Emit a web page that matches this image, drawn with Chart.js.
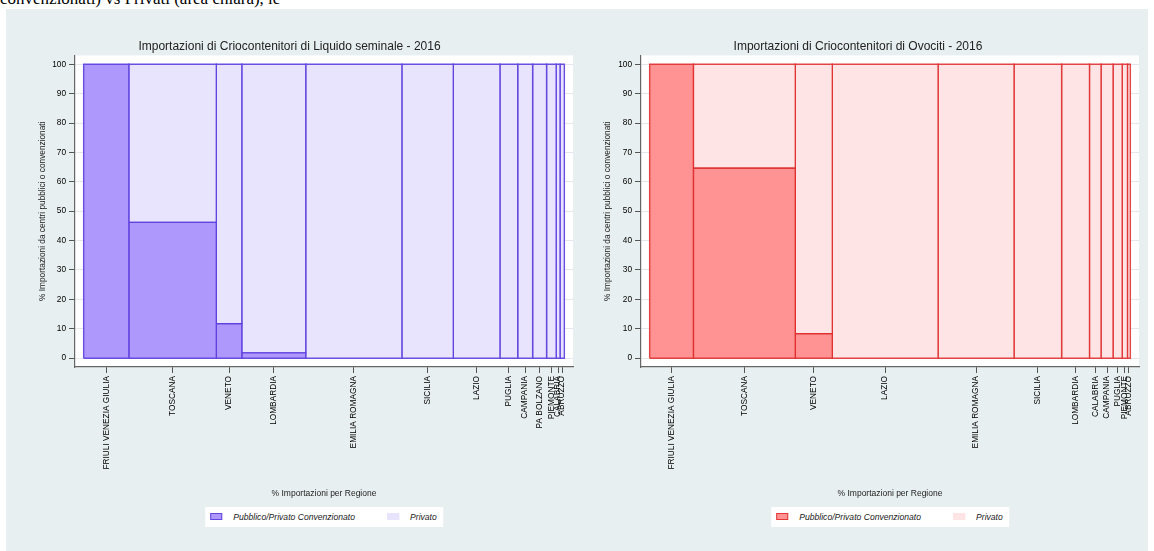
<!DOCTYPE html>
<html lang="it">
<head>
<meta charset="utf-8">
<title>Importazioni di Criocontenitori - 2016</title>
<script src="https://cdn.jsdelivr.net/npm/chart.js@4.4.1/dist/chart.umd.min.js"></script>
<style>
  body { margin: 0; background: #fff; font-family: "Liberation Sans", Arial, sans-serif; }
  .testo { position: absolute; left: 0; top: 0; width: 1154px; height: 9px; overflow: hidden; }
  .testo span { position: absolute; left: 0; top: -9px; font: 17px/16px "Liberation Serif", serif; color: #000; white-space: nowrap; }
  .pannello { position: absolute; left: 6px; top: 9px; width: 1142px; height: 542px; background: #e8eff1; }
  .pannello canvas { position: absolute; top: 0; }
  .legenda { position: absolute; top: 498px; height: 20px; background: #fff; display: flex; align-items: center;
             padding: 0 6px 0 5px; transform: translateX(-50%); font: italic 8.6px "Liberation Sans", Arial, sans-serif; color: #222; white-space: nowrap; }
  .legenda .box { display: inline-block; width: 10px; height: 5px; margin-right: 11px; }
  .legenda .voce + .voce { margin-left: 32px; }
</style>
</head>
<body>
<div class="testo"><span>convenzionati) vs Privati (area chiara), le</span></div>
<div class="pannello" id="pannello">
  <canvas id="seme" width="571" height="542" style="left:0px"></canvas>
  <canvas id="ovociti" width="571" height="542" style="left:571px"></canvas>
</div>

<script>
// Liquido seminale: quota delle importazioni per regione (larghezza colonna)
// e quota da centri pubblici/privati convenzionati (altezza parte scura)
const SEME_REGIONI = ['FRIULI VENEZIA GIULIA', 'TOSCANA', 'VENETO', 'LOMBARDIA', 'EMILIA ROMAGNA', 'SICILIA',
  'LAZIO', 'PUGLIA', 'CAMPANIA', 'PA BOLZANO', 'PIEMONTE', 'CALABRIA', 'ABRUZZO'];
const SEME_QUOTA = [9.4, 18.2, 5.3, 13.3, 20.0, 10.7, 9.7, 3.7, 3.1, 2.9, 2.0, 0.8, 0.9];
const SEME_PUBBLICO = [100, 46.2, 11.7, 1.8, 0, 0, 0, 0, 0, 0, 0, 0, 0];

// Ovociti
const OVO_REGIONI = ['FRIULI VENEZIA GIULIA', 'TOSCANA', 'VENETO', 'LAZIO', 'EMILIA ROMAGNA', 'SICILIA',
  'LOMBARDIA', 'CALABRIA', 'CAMPANIA', 'PUGLIA', 'PIEMONTE', 'ABRUZZO'];
const OVO_QUOTA = [9.1, 21.2, 7.7, 22.0, 15.8, 9.9, 5.8, 2.4, 2.5, 1.9, 1.1, 0.6];
const OVO_PUBBLICO = [100, 64.6, 8.3, 0, 0, 0, 0, 0, 0, 0, 0, 0];

const Y_TICKS = [0, 10, 20, 30, 40, 50, 60, 70, 80, 90, 100];

// sfondo bianco dell'area del grafico
const sfondoBianco = {
  id: 'sfondoBianco',
  beforeDraw(chart) {
    const {ctx, chartArea: a} = chart;
    ctx.save();
    ctx.fillStyle = '#fff';
    ctx.fillRect(a.left, a.top, a.right - a.left, a.bottom - a.top);
    ctx.restore();
  }
};

// un rettangolo come linea chiusa riempita
function rettangolo(x0, x1, y0, y1, fondo, bordo) {
  return {
    data: [{x: x0, y: y0}, {x: x0, y: y1}, {x: x1, y: y1}, {x: x1, y: y0}, {x: x0, y: y0}],
    fill: 'shape',
    backgroundColor: fondo,
    borderColor: bordo,
    borderWidth: 1.4,
    borderJoinStyle: 'miter',
    pointRadius: 0,
    tension: 0
  };
}

function creaGrafico(id, titolo, regioni, quote, pubblico, colori, larghezzaY, titoloYPad, padDestra) {
  let inizio = [];
  let somma = 0;
  quote.forEach(q => { inizio.push(somma); somma += q; });
  let centri = quote.map((q, i) => inizio[i] + q / 2);

  let datasets = [];
  regioni.forEach((r, i) => {
    let x0 = inizio[i];
    let x1 = inizio[i] + quote[i];
    let v = pubblico[i];
    if (v > 0) datasets.push(rettangolo(x0, x1, 0, v, colori.scuro, colori.bordo));
    if (v < 100) datasets.push(rettangolo(x0, x1, v, 100, colori.chiaro, colori.bordo));
  });

  return new Chart(document.getElementById(id), {
    type: 'line',
    data: { datasets: datasets },
    plugins: [sfondoBianco],
    options: {
      responsive: false,
      animation: false,
      events: [],
      layout: { padding: { top: 0, left: 0, right: padDestra, bottom: 42 } },
      plugins: {
        legend: { display: false },
        tooltip: { enabled: false },
        title: {
          display: true,
          text: titolo,
          color: '#222',
          font: { family: 'Liberation Sans', size: 12, weight: 'normal' },
          padding: { top: 30, bottom: 2 }
        }
      },
      scales: {
        x: {
          type: 'linear',
          min: -1.8,
          max: 101.8,
          afterBuildTicks: s => { s.ticks = centri.map(v => ({value: v})); },
          afterFit: s => { s.height = 142; },
          ticks: {
            autoSkip: false,
            minRotation: 90,
            maxRotation: 90,
            padding: 3,
            color: '#000',
            font: { family: 'Liberation Sans', size: 8.3 },
            callback: (v, i) => regioni[i]
          },
          grid: { drawOnChartArea: false, tickLength: 6, tickColor: '#555' },
          border: { color: '#666', width: 1.2 },
          title: {
            display: true,
            text: '% Importazioni per Regione',
            color: '#222',
            font: { family: 'Liberation Sans', size: 8.5 },
            padding: { top: 0, bottom: 10 }
          }
        },
        y: {
          min: -3,
          max: 103,
          afterBuildTicks: s => { s.ticks = Y_TICKS.map(v => ({value: v})); },
          afterFit: s => { s.width = larghezzaY; },
          ticks: { padding: 3, color: '#000', font: { family: 'Liberation Sans', size: 8.3 } },
          grid: { color: '#e3e6ec', tickLength: 6, tickColor: '#555' },
          border: { color: '#666', width: 1.2 },
          title: {
            display: true,
            text: '% Importazioni da centri pubblici o convenzionati',
            color: '#222',
            font: { family: 'Liberation Sans', size: 8.3 },
            padding: { top: titoloYPad, bottom: 0 }
          }
        }
      }
    }
  });
}

// legenda sotto ciascun grafico, centrata sull'area del grafico
function creaLegenda(chart, sinistra, colori) {
  let a = chart.chartArea;
  let div = document.createElement('div');
  div.className = 'legenda';
  div.style.left = (sinistra + (a.left + a.right) / 2) + 'px';
  div.innerHTML =
    '<span class="voce"><span class="box" style="background:' + colori.scuro + ';border:0.5px solid ' + colori.bordo + '"></span>Pubblico/Privato Convenzionato</span>' +
    '<span class="voce"><span class="box" style="background:' + colori.chiaro + ';border:0.5px solid ' + colori.chiaro + '"></span>Privato</span>';
  document.getElementById('pannello').appendChild(div);
}

const viola = { scuro: 'rgba(175,152,251,1)', chiaro: 'rgba(232,228,253,1)', bordo: 'rgba(92,62,222,0.9)' };
const rosso = { scuro: 'rgba(255,146,146,1)', chiaro: 'rgba(255,228,229,1)', bordo: 'rgba(222,40,40,0.85)' };

let g1 = creaGrafico('seme', 'Importazioni di Criocontenitori di Liquido seminale - 2016',
  SEME_REGIONI, SEME_QUOTA, SEME_PUBBLICO, viola, 69, 32, 4);
let g2 = creaGrafico('ovociti', 'Importazioni di Criocontenitori di Ovociti - 2016',
  OVO_REGIONI, OVO_QUOTA, OVO_PUBBLICO, rosso, 64, 26, 9);

creaLegenda(g1, 0, viola);
creaLegenda(g2, 571, rosso);
</script>
</body>
</html>
